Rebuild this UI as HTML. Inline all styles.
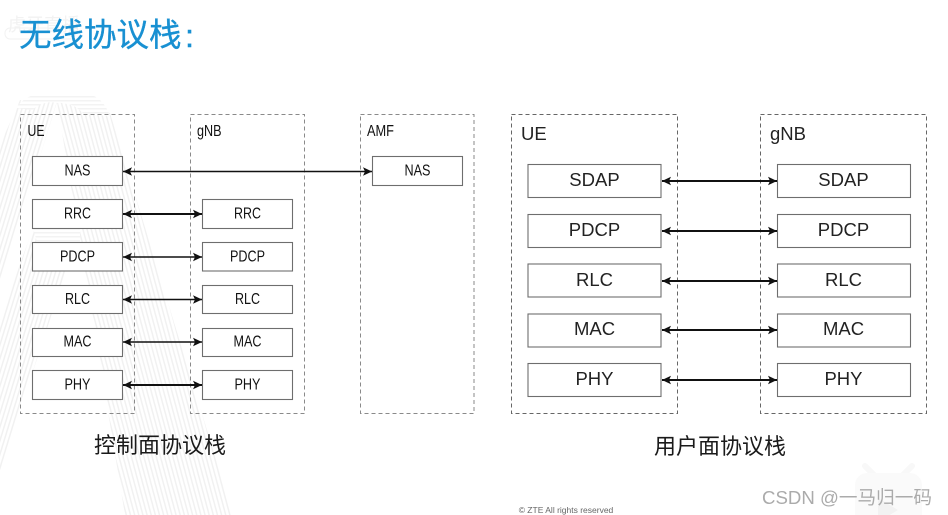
<!DOCTYPE html>
<html><head><meta charset="utf-8"><style>
html,body{margin:0;padding:0;background:#fff;overflow:hidden}
svg{display:block;filter:blur(0.35px)}
text{font-family:"Liberation Sans","Noto Sans CJK SC",sans-serif;fill:#111}
.l{font-size:16px;text-anchor:middle}
.r{font-size:18.5px;text-anchor:middle;fill:#222}
.c{font-size:22px;fill:#1a1a1a}
.d{fill:none;stroke:#666;stroke-width:1;stroke-dasharray:4 3}
.e{fill:none;stroke:#8a8a8a;stroke-width:1;stroke-dasharray:4 3}
.b{fill:#fff;stroke:#6e6e6e;stroke-width:1.1}
.a{stroke:#111;stroke-width:1.5;fill:none}
.a2{stroke:#111;stroke-width:1.9;fill:none}
</style></head><body>
<svg width="948" height="515" viewBox="0 0 948 515" xmlns="http://www.w3.org/2000/svg">
<defs>
<pattern id="p1" width="4" height="4" patternUnits="userSpaceOnUse" patternTransform="rotate(-15)"><rect width="4" height="4" fill="#fff"/><rect width="1.5" height="4" fill="#f1f1f1"/></pattern>
<pattern id="p2" width="4" height="4" patternUnits="userSpaceOnUse" patternTransform="rotate(17)"><rect width="4" height="4" fill="#fff"/><rect width="1.5" height="4" fill="#f1f1f1"/></pattern>
<pattern id="p3" width="4" height="4" patternUnits="userSpaceOnUse"><rect width="4" height="4" fill="#fff"/><rect width="4" height="1.5" fill="#f3f3f3"/></pattern>
<marker id="m" viewBox="0 0 9 9" refX="9" refY="4.5" markerWidth="9" markerHeight="9" markerUnits="userSpaceOnUse" orient="auto-start-reverse"><path d="M0,0.3 L9,4.5 L0,8.7 L2,4.5 Z" fill="#111"/></marker>
</defs>
<rect width="948" height="515" fill="#fff"/>
<!-- background watermark -->
<path d="M57,102 L110,113 L233,515 L125,515 Z" fill="url(#p1)"/>
<path d="M20,100 L57,102 L0,285 L0,145 Z" fill="url(#p2)"/>
<path d="M33,228 L80,228 L0,472 L0,320 Z" fill="url(#p2)"/>
<path d="M33,228 H80 V270 H45 Z" fill="url(#p3)"/>
<path d="M16,108 Q26,94 42,94 H84 Q102,94 110,116 L84,114 Q70,100 57,103 Q44,100 32,110 Z" fill="url(#p3)"/>
<text x="8" y="31" style="font-size:18px;fill:#f2f2f2">虎牙直播</text>
<rect x="5" y="28" width="70" height="11" rx="5" fill="none" stroke="#f2f2f2"/>
<!-- TV watermark -->
<path d="M865,466 L875,476 M912,466 L902,476" stroke="#f8f8f8" stroke-width="6" stroke-linecap="round"/>
<rect x="855" y="473" width="67" height="60" rx="12" fill="#fafafa"/>
<path d="M878,498 L898,510 L878,522 Z" fill="#f2f2f2"/>
<!-- title -->
<text x="19" y="46" style="font-size:32.5px;fill:#1890d2;stroke:#1890d2;stroke-width:0.35">无线协议栈</text>
<text x="185" y="47" style="font-size:32.5px;fill:#1890d2;stroke:#1890d2;stroke-width:0.4">:</text>
<!-- dashed groups -->
<rect class="e" x="20.5" y="114.5" width="114" height="299"/>
<rect class="e" x="190.5" y="114.5" width="114" height="299"/>
<rect class="e" x="360.5" y="114.5" width="113.5" height="299"/>
<rect class="d" x="511.5" y="114.5" width="166" height="299"/>
<rect class="d" x="760.5" y="114.5" width="166" height="299"/>
<!-- group labels -->
<text x="27.5" y="136" style="font-size:16px" textLength="17" lengthAdjust="spacingAndGlyphs">UE</text>
<text x="197" y="136" style="font-size:16px" textLength="24.5" lengthAdjust="spacingAndGlyphs">gNB</text>
<text x="367" y="136" style="font-size:16px" textLength="27" lengthAdjust="spacingAndGlyphs">AMF</text>
<text x="521" y="140" style="font-size:18.5px;fill:#222">UE</text>
<text x="770" y="140" style="font-size:18.5px;fill:#222">gNB</text>
<!-- left boxes -->
<rect class="b" x="32.5" y="156.5" width="90" height="29"/>
<rect class="b" x="32.5" y="199.5" width="90" height="29"/>
<rect class="b" x="32.5" y="242.5" width="90" height="28.5"/>
<rect class="b" x="32.5" y="285.5" width="90" height="28"/>
<rect class="b" x="32.5" y="328.5" width="90" height="28"/>
<rect class="b" x="32.5" y="370.5" width="90" height="29"/>
<rect class="b" x="202.5" y="199.5" width="90" height="29"/>
<rect class="b" x="202.5" y="242.5" width="90" height="28.5"/>
<rect class="b" x="202.5" y="285.5" width="90" height="28"/>
<rect class="b" x="202.5" y="328.5" width="90" height="28"/>
<rect class="b" x="202.5" y="370.5" width="90" height="29"/>
<rect class="b" x="372.5" y="156.5" width="90" height="29"/>
<!-- left labels -->
<text class="l" x="77.5" y="175.5" textLength="26" lengthAdjust="spacingAndGlyphs">NAS</text>
<text class="l" x="77.5" y="218.5" textLength="27" lengthAdjust="spacingAndGlyphs">RRC</text>
<text class="l" x="77.5" y="261.5" textLength="35" lengthAdjust="spacingAndGlyphs">PDCP</text>
<text class="l" x="77.5" y="304" textLength="25" lengthAdjust="spacingAndGlyphs">RLC</text>
<text class="l" x="77.5" y="346.5" textLength="28" lengthAdjust="spacingAndGlyphs">MAC</text>
<text class="l" x="77.5" y="389.5" textLength="26" lengthAdjust="spacingAndGlyphs">PHY</text>
<text class="l" x="247.5" y="218.5" textLength="27" lengthAdjust="spacingAndGlyphs">RRC</text>
<text class="l" x="247.5" y="261.5" textLength="35" lengthAdjust="spacingAndGlyphs">PDCP</text>
<text class="l" x="247.5" y="304" textLength="25" lengthAdjust="spacingAndGlyphs">RLC</text>
<text class="l" x="247.5" y="346.5" textLength="28" lengthAdjust="spacingAndGlyphs">MAC</text>
<text class="l" x="247.5" y="389.5" textLength="26" lengthAdjust="spacingAndGlyphs">PHY</text>
<text class="l" x="417.5" y="175.5" textLength="26" lengthAdjust="spacingAndGlyphs">NAS</text>
<!-- left arrows -->
<line class="a" x1="123" y1="171.5" x2="372" y2="171.5" marker-start="url(#m)" marker-end="url(#m)"/>
<line class="a2" x1="123" y1="214" x2="202" y2="214" marker-start="url(#m)" marker-end="url(#m)"/>
<line class="a" x1="123" y1="257" x2="202" y2="257" marker-start="url(#m)" marker-end="url(#m)"/>
<line class="a" x1="123" y1="299.5" x2="202" y2="299.5" marker-start="url(#m)" marker-end="url(#m)"/>
<line class="a" x1="123" y1="342" x2="202" y2="342" marker-start="url(#m)" marker-end="url(#m)"/>
<line class="a2" x1="123" y1="385" x2="202" y2="385" marker-start="url(#m)" marker-end="url(#m)"/>
<!-- right boxes -->
<rect class="b" x="528" y="164.5" width="133" height="33"/>
<rect class="b" x="528" y="214.5" width="133" height="33"/>
<rect class="b" x="528" y="264" width="133" height="33"/>
<rect class="b" x="528" y="314" width="133" height="33"/>
<rect class="b" x="528" y="363.5" width="133" height="33"/>
<rect class="b" x="777.5" y="164.5" width="133" height="33"/>
<rect class="b" x="777.5" y="214.5" width="133" height="33"/>
<rect class="b" x="777.5" y="264" width="133" height="33"/>
<rect class="b" x="777.5" y="314" width="133" height="33"/>
<rect class="b" x="777.5" y="363.5" width="133" height="33"/>
<!-- right labels -->
<text class="r" x="594.5" y="186">SDAP</text>
<text class="r" x="594.5" y="236">PDCP</text>
<text class="r" x="594.5" y="286">RLC</text>
<text class="r" x="594.5" y="335">MAC</text>
<text class="r" x="594.5" y="385">PHY</text>
<text class="r" x="843.5" y="186">SDAP</text>
<text class="r" x="843.5" y="236">PDCP</text>
<text class="r" x="843.5" y="286">RLC</text>
<text class="r" x="843.5" y="335">MAC</text>
<text class="r" x="843.5" y="385">PHY</text>
<!-- right arrows -->
<line class="a2" x1="662" y1="181" x2="777" y2="181" marker-start="url(#m)" marker-end="url(#m)"/>
<line class="a2" x1="662" y1="231" x2="777" y2="231" marker-start="url(#m)" marker-end="url(#m)"/>
<line class="a2" x1="662" y1="281" x2="777" y2="281" marker-start="url(#m)" marker-end="url(#m)"/>
<line class="a2" x1="662" y1="330" x2="777" y2="330" marker-start="url(#m)" marker-end="url(#m)"/>
<line class="a2" x1="662" y1="380" x2="777" y2="380" marker-start="url(#m)" marker-end="url(#m)"/>
<!-- captions -->
<text class="c" x="94" y="453">控制面协议栈</text>
<text class="c" x="654" y="454">用户面协议栈</text>
<!-- footer -->
<text x="566" y="513" style="font-size:8.5px;fill:#666;text-anchor:middle">© ZTE All rights reserved</text>
<text x="762" y="504" style="font-size:18.5px;fill:#ababab" textLength="170" lengthAdjust="spacingAndGlyphs">CSDN @一马归一码</text>
</svg>
</body></html>
